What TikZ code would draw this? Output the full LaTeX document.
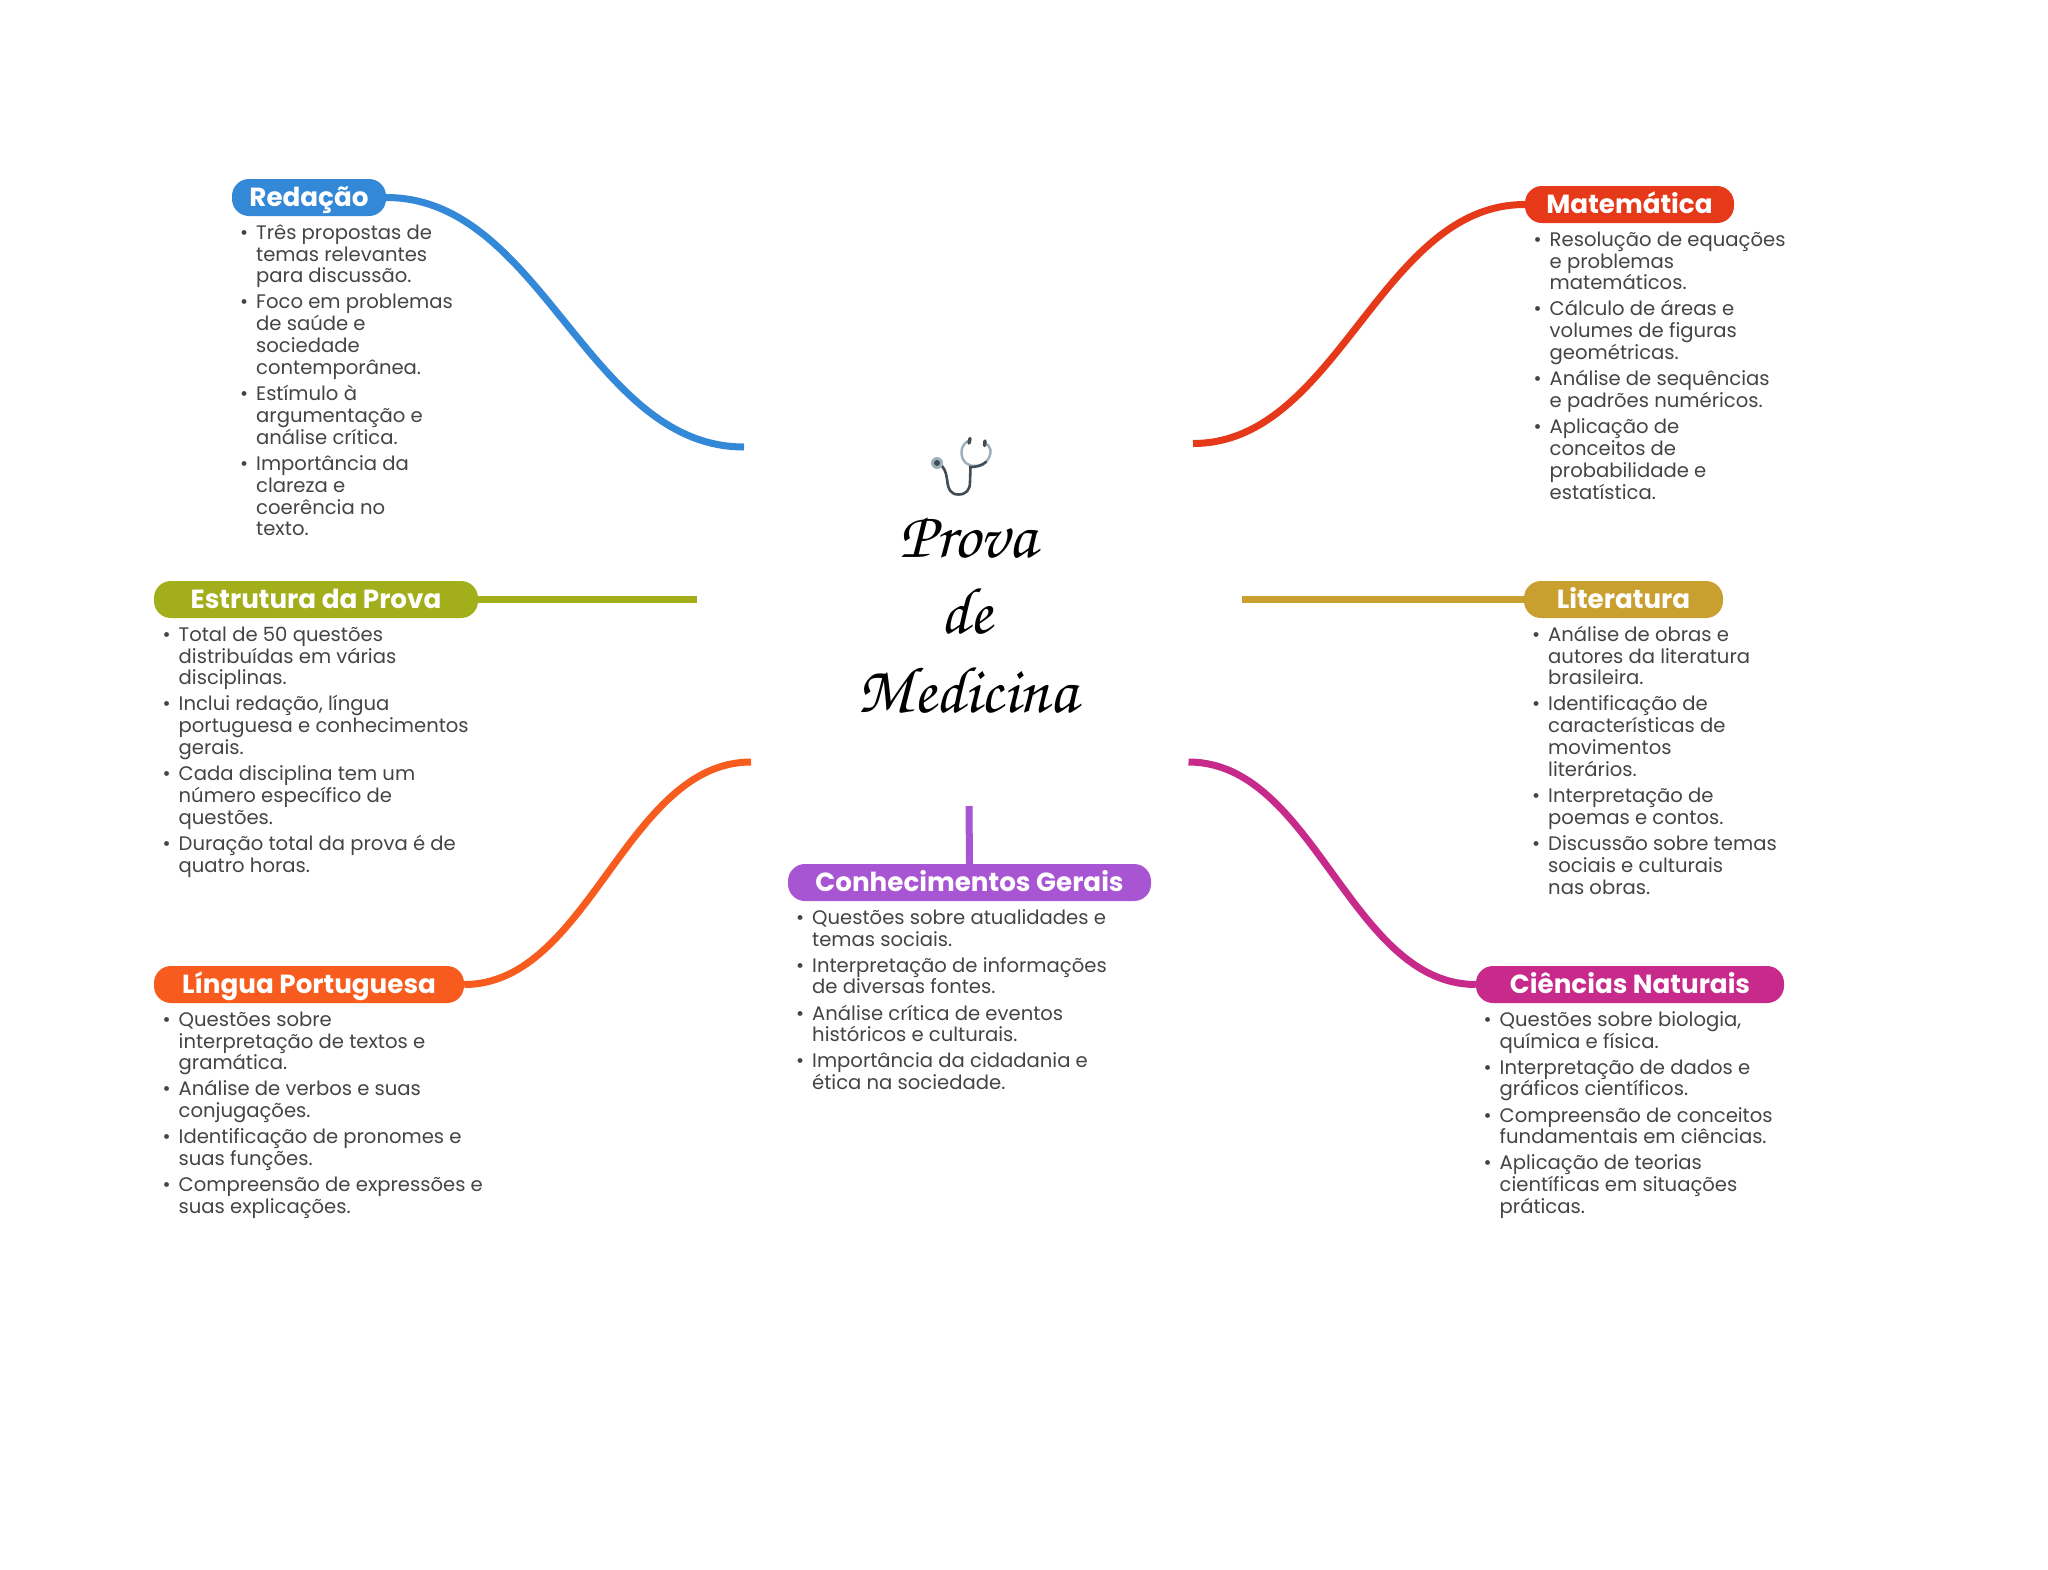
\documentclass[tikz,border=0pt]{standalone}
\usepackage{fontspec}
\setmainfont{Poppins}
\newfontfamily\chorusfont{TeX Gyre Chorus}
\definecolor{cRed}{HTML}{3388D8}
\definecolor{cMat}{HTML}{E5391A}
\definecolor{cEst}{HTML}{A3AE1B}
\definecolor{cLin}{HTML}{F75C1E}
\definecolor{cCon}{HTML}{A855D3}
\definecolor{cLit}{HTML}{C9A02F}
\definecolor{cCie}{HTML}{C72A8A}
\definecolor{cTxt}{HTML}{444444}
\definecolor{cTube}{HTML}{414C54}
\definecolor{cRing}{HTML}{9DB1BD}
\newcommand{\bul}{\llap{\textbullet\hspace{8pt}}}
\newcommand{\firstln}{\rule{0pt}{20pt}}
\tikzset{
  pill/.style={fill=#1,rounded corners=17pt,minimum height=37pt,inner sep=0pt,text=white,
    text height=22pt,text depth=5pt,
    font=\fontsize{26.2}{30}\bfseries\selectfont},
  bodytext/.style={anchor=north west,inner sep=0pt,align=left,text=cTxt,
    font=\fontsize{19.6}{21.85}\selectfont},
  link/.style={draw=#1,line width=7pt},
  titletext/.style={inner sep=0pt,font=\fontsize{66}{76}\chorusfont\selectfont},
}
\begin{document}
\begin{tikzpicture}[x=1pt,y=-1pt]
\useasboundingbox (0,0) rectangle (2048,1569);
\fill[white] (0,0) rectangle (2048,1569);
% endpoints
\coordinate (eRed) at (744,447);
\coordinate (eMat) at (1193,443.5);
\coordinate (eEst) at (697,599.5);
\coordinate (eLit) at (1242,599.5);
\coordinate (eLin) at (751,762);
\coordinate (eCie) at (1188.5,762);
\coordinate (eCon) at (969,806);
% pills
\node[pill=cRed,minimum width=154pt] (nRed) at (309,197.5) {Redação};
\node[pill=cMat,minimum width=209pt] (nMat) at (1629.5,204.5) {Matemática};
\node[pill=cEst,minimum width=324pt] (nEst) at (316,599.5) {Estrutura da Prova};
\node[pill=cLit,minimum width=199pt] (nLit) at (1623.5,599.5) {Literatura};
\node[pill=cLin,minimum width=310pt] (nLin) at (309,984.5) {Língua Portuguesa};
\node[pill=cCon,minimum width=363pt] (nCon) at (969.5,882.5) {Conhecimentos Gerais};
\node[pill=cCie,minimum width=308pt] (nCie) at (1630,984.5) {Ciências Naturais};
% connectors
\draw[link=cRed] (nRed.east) .. controls (542,197.5) and (588,447) .. (eRed);
\draw[link=cMat] (nMat.west) .. controls (1380,204.5) and (1338,443.5) .. (eMat);
\draw[link=cEst] (nEst.east) -- (eEst);
\draw[link=cLit] (nLit.west) -- (eLit);
\draw[link=cLin] (nLin.east) .. controls (589,984.5) and (626,762) .. (eLin);
\draw[link=cCie] (nCie.west) .. controls (1350,984.5) and (1314.5,762) .. (eCie);
\draw[link=cCon] (nCon.north) -- (eCon);
% bodies
\node[bodytext] (bRed) at (256,219) {\firstln\bul Três propostas de\\temas relevantes\\para discussão.\\[4.2pt]
\bul Foco em problemas\\de saúde e\\sociedade\\contemporânea.\\[4.2pt]
\bul Estímulo à\\argumentação e\\análise crítica.\\[4.2pt]
\bul Importância da\\clareza e\\coerência no\\texto.};
\node[bodytext] (bMat) at (1549.5,226) {\firstln\bul Resolução de equações\\e problemas\\matemáticos.\\[4.2pt]
\bul Cálculo de áreas e\\volumes de figuras\\geométricas.\\[4.2pt]
\bul Análise de sequências\\e padrões numéricos.\\[4.2pt]
\bul Aplicação de\\conceitos de\\probabilidade e\\estatística.};
\node[bodytext] (bEst) at (178.5,621) {\firstln\bul Total de 50 questões\\distribuídas em várias\\disciplinas.\\[4.2pt]
\bul Inclui redação, língua\\portuguesa e conhecimentos\\gerais.\\[4.2pt]
\bul Cada disciplina tem um\\número específico de\\questões.\\[4.2pt]
\bul Duração total da prova é de\\quatro horas.};
\node[bodytext] (bLit) at (1548,621) {\firstln\bul Análise de obras e\\autores da literatura\\brasileira.\\[4.2pt]
\bul Identificação de\\características de\\movimentos\\literários.\\[4.2pt]
\bul Interpretação de\\poemas e contos.\\[4.2pt]
\bul Discussão sobre temas\\sociais e culturais\\nas obras.};
\node[bodytext] (bLin) at (178.5,1006) {\firstln\bul Questões sobre\\interpretação de textos e\\gramática.\\[4.2pt]
\bul Análise de verbos e suas\\conjugações.\\[4.2pt]
\bul Identificação de pronomes e\\suas funções.\\[4.2pt]
\bul Compreensão de expressões e\\suas explicações.};
\node[bodytext] (bCon) at (812,904) {\firstln\bul Questões sobre atualidades e\\temas sociais.\\[4.2pt]
\bul Interpretação de informações\\de diversas fontes.\\[4.2pt]
\bul Análise crítica de eventos\\históricos e culturais.\\[4.2pt]
\bul Importância da cidadania e\\ética na sociedade.};
\node[bodytext] (bCie) at (1499.5,1006) {\firstln\bul Questões sobre biologia,\\química e física.\\[4.2pt]
\bul Interpretação de dados e\\gráficos científicos.\\[4.2pt]
\bul Compreensão de conceitos\\fundamentais em ciências.\\[4.2pt]
\bul Aplicação de teorias\\científicas em situações\\práticas.};
% title
\node[titletext,anchor=base] (t1) at (968,557) {Prova};
\node[titletext,anchor=base] (t2) at (966,633) {de};
\node[titletext,anchor=base] (t3) at (967.5,712) {Medicina};
% stethoscope
\draw[line width=2.5pt,color=cRing,line cap=round]
  (968,441) .. controls (963,444) and (961,449) .. (961.5,454)
  .. controls (962,461) and (967,466) .. (975,466)
  .. controls (985,466) and (991,458) .. (990.5,450) .. controls (990,447) and (988,445) .. (985,443);
\draw[line width=2.6pt,color=cTube,line cap=round]
  (938,463) .. controls (944,466) and (946,472) .. (947,479)
  .. controls (948,490) and (951,494.5) .. (958.5,494.5)
  .. controls (966,494.5) and (970,490) .. (970,482) -- (970.5,467)
  .. controls (975,467) and (982,466) .. (986,462);
\fill[cRing] (937,463) circle (6pt);
\fill[cTube] (937,463) circle (3pt);
\draw[cTube,line width=3.5pt,line cap=round] (970,438.5) -- (969,443) (985,441) -- (984.5,445.5);
\end{tikzpicture}
\end{document}
